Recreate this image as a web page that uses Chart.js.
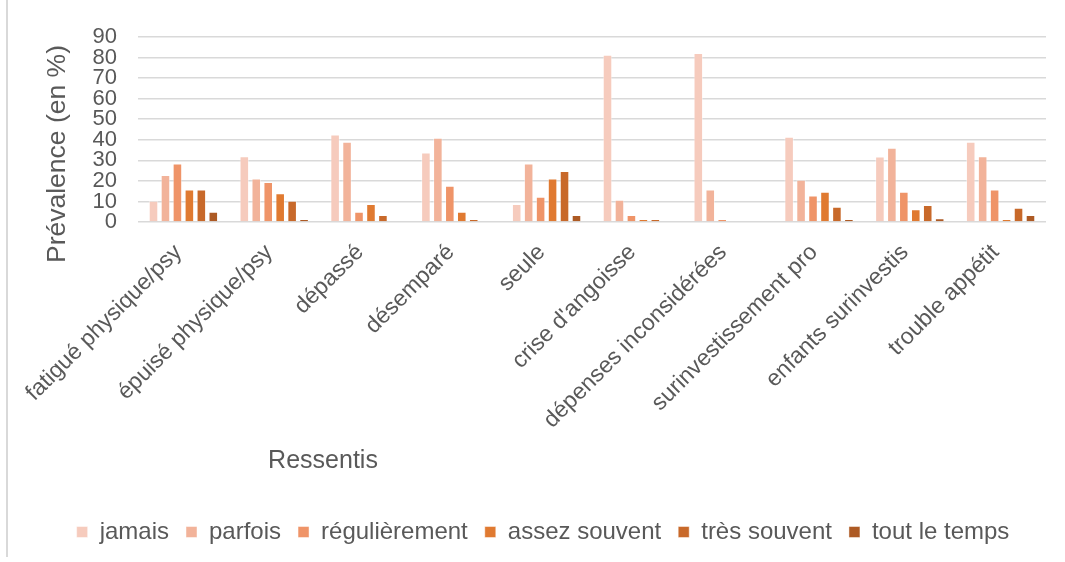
<!DOCTYPE html>
<html lang="fr">
<head>
<meta charset="utf-8">
<title>Prévalence des ressentis</title>
<script src="https://cdn.jsdelivr.net/npm/chart.js@4.4.1/dist/chart.umd.min.js"></script>
<style>
  html, body { margin: 0; padding: 0; background: #fff; }
  #cadre { position: relative; width: 1065px; height: 562px; }
  #cadre::before { content: ''; position: absolute; left: 6px; top: 0; height: 557px; border-left: 2px solid #d9d9d9; }
  canvas { position: absolute; left: 0; top: 0; }
</style>
</head>
<body>
<div id="cadre"><canvas id="grafico" width="1065" height="562"></canvas></div>
<script>
/* Prévalence des ressentis (en %) par fréquence */

// ---------------- Données ---------------- //
const ressentis = [
  'fatigué physique/psy', 'épuisé physique/psy', 'dépassé', 'désemparé', 'seule',
  "crise d'angoisse", 'dépenses inconsidérées', 'surinvestissement pro',
  'enfants surinvestis', 'trouble appétit'
];
const jamais        = [10.3, 32.0, 42.6, 33.8,  8.7, 81.4, 82.2, 41.5, 31.9, 39.0];
const parfois       = [22.9, 21.2, 39.0, 41.0, 28.4, 10.8, 15.8, 20.6, 36.1, 32.0];
const regulierement = [28.4, 19.4,  5.0, 17.6, 12.3,  3.4,  1.5, 12.9, 14.7, 15.8];
const assezSouvent  = [15.8, 14.0,  8.8,  5.0, 21.2,  1.5,  0.0, 14.7,  6.2,  1.5];
const tresSouvent   = [15.8, 10.3,  3.4,  1.5, 24.8,  1.5,  0.0,  7.4,  8.3,  6.9];
const toutLeTemps   = [ 5.0,  1.5,  0.0,  0.0,  3.4,  0.0,  0.0,  1.5,  1.8,  3.4];

const frequences = ['jamais', 'parfois', 'régulièrement', 'assez souvent', 'très souvent', 'tout le temps'];
const series = [jamais, parfois, regulierement, assezSouvent, tresSouvent, toutLeTemps];
const cores = ['#f6cbbd', '#f2b39a', '#ef9468', '#e07a31', '#c8692a', '#ad5a24'];

const TITRE_X = 'Ressentis';
const TITRE_Y = 'Prévalence (en %)';

// ---------------- Defaults ---------------- //
const FONTE = "'Liberation Sans', Arial, sans-serif";
Chart.defaults.font.family = FONTE;
Chart.defaults.color = '#595959';

// titres des axes, placés comme dans l'original
const titresAxes = {
  id: 'titresAxes',
  afterDraw(chart) {
    const ctx = chart.ctx;
    ctx.save();
    ctx.fillStyle = '#595959';
    ctx.textAlign = 'center';
    ctx.textBaseline = 'middle';
    ctx.font = '25px ' + FONTE;
    ctx.fillText(TITRE_X, 323, 461);
    ctx.font = '26.5px ' + FONTE;
    ctx.translate(58, 154);
    ctx.rotate(-Math.PI / 2);
    ctx.fillText(TITRE_Y, 0, 0);
    ctx.restore();
  }
};

new Chart(document.getElementById('grafico'), {
  type: 'bar',
  data: {
    labels: ressentis,
    datasets: series.map((valores, i) => ({
      label: frequences[i],
      data: valores,
      backgroundColor: cores[i],
      borderColor: 'rgba(255,255,255,0.45)',
      borderWidth: 1,
      categoryPercentage: 0.79,
      barPercentage: 0.8
    }))
  },
  options: {
    responsive: false,
    animation: false,
    layout: { padding: { left: 40, right: 19, top: 37, bottom: 8 } },
    plugins: {
      tooltip: { enabled: false },
      legend: {
        position: 'bottom',
        labels: {
          font: { size: 24 },
          color: '#595959',
          boxWidth: 11,
          boxHeight: 11,
          padding: 17
        }
      }
    },
    scales: {
      x: {
        grid: { display: false },
        border: { display: false },
        ticks: { font: { size: 23 }, color: '#595959', minRotation: 45, maxRotation: 45, autoSkip: false, padding: 9, labelOffset: -5 },
        afterFit: s => { s.height = 281; }
      },
      y: {
        min: 0, max: 90,
        grid: { color: '#d9d9d9', lineWidth: 1.5, drawTicks: false },
        border: { display: false },
        ticks: { stepSize: 10, autoSkip: false, font: { size: 22 }, color: '#595959', padding: 21 },
        afterFit: s => { s.width = 98; }
      }
    }
  },
  plugins: [titresAxes]
});
</script>
</body>
</html>
